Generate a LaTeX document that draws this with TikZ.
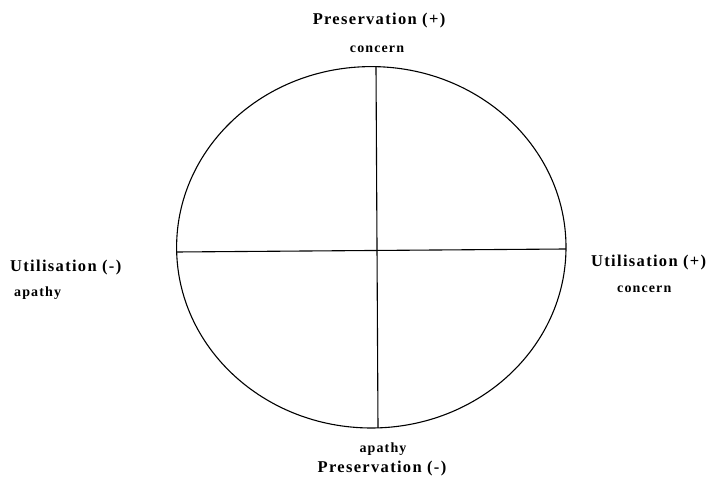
\documentclass[tikz,border=0pt]{standalone}
\usepackage{fontspec}
\setmainfont{Liberation Serif}
\usepackage{tikz}
\usetikzlibrary{positioning}

\begin{document}
\begin{tikzpicture}[
  x=1pt, y=1pt,
  axis/.style={line width=1.1pt, draw=black},
  big/.style={inner sep=0pt, font=\fontsize{16.5}{18}\selectfont\bfseries\addfontfeatures{LetterSpace=8}},
  small/.style={inner sep=0pt, font=\fontsize{14}{16}\selectfont\bfseries\addfontfeatures{LetterSpace=8}}
]
\useasboundingbox (0,0) rectangle (707,487);

% the circle and its two axes
\draw[axis] (371.3,239.7) ellipse [x radius=194.7, y radius=180.7];
\coordinate (ptop) at (376,420.2);
\coordinate (pbot) at (378,59.2);
\coordinate (uleft) at (176.8,235);
\coordinate (uright) at (565.9,238);
\draw[axis] (ptop) -- (pbot);
\draw[axis] (uleft) -- (uright);

% labels
\node[big, anchor=base] (presplus) at (379,462) {Preservation (+)};
\node[small, anchor=base] (concerntop) at (377,434) {concern};
\node[big, anchor=base west] (utilminus) at (10,215) {Utilisation (-)};
\node[small, anchor=base west] (apathyleft) at (14,190) {apathy};
\node[big, anchor=base west] (utilplus) at (591,220) {Utilisation (+)};
\node[small, anchor=base west] (concernright) at (617,194) {concern};
\node[small, anchor=base] (apathybot) at (383,34) {apathy};
\node[big, anchor=base] (presminus) at (382,14) {Preservation (-)};
\end{tikzpicture}
\end{document}
